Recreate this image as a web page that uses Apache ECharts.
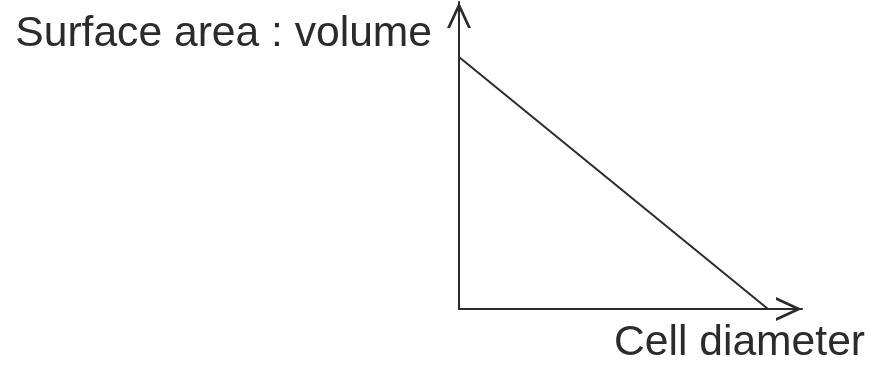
<!DOCTYPE html>
<html>
<head>
<meta charset="utf-8">
<script src="https://cdn.jsdelivr.net/npm/echarts@6/dist/echarts.min.js"></script>
<style>
  html, body { margin: 0; padding: 0; background: #fff; }
  #main { width: 872px; height: 368px; }
</style>
</head>
<body>
<div id="main"></div>
<script>
  // sketch: ratio falls as the cell gets bigger (arbitrary units)
  var diameter = [0, 10];
  var ratio = [10, 0];
  var xMax = 11.1;   // axis runs a bit past the end of the line
  var yMax = 12.18;

  var xName = 'Cell diameter';
  var yName = 'Surface area : volume';

  var ink = '#2b2b2b';
  // open chevron pointing up, like the built-in arrow
  var chevron = 'path://M12,0 L24,26 L21,26 L12,6.5 L3,26 L0,26 Z';

  var points = diameter.map(function (d, i) { return [d, ratio[i]]; });

  var chart = echarts.init(document.getElementById('main'));
  var option = {
    animation: false,
    grid: {
      left: 459, right: 70, top: 2, bottom: 59,
      containLabel: false,
      outerBoundsMode: 'none'
    },
    xAxis: {
      type: 'value',
      min: 0,
      max: xMax,
      name: xName,
      nameLocation: 'end',
      nameGap: 63,
      nameMoveOverlap: false,
      nameTextStyle: {
        fontFamily: 'Liberation Sans',
        fontSize: 42.6,
        color: ink,
        align: 'right',
        verticalAlign: 'top',
        lineHeight: 69
      },
      axisLine: {
        lineStyle: { color: ink, width: 2 },
        symbol: ['none', chevron],
        symbolSize: [24, 26],
        symbolOffset: [0, -13]
      },
      axisTick: { show: false },
      axisLabel: { show: false },
      splitLine: { show: false }
    },
    yAxis: {
      type: 'value',
      min: 0,
      max: yMax,
      name: yName,
      nameLocation: 'end',
      nameGap: -32,
      nameMoveOverlap: false,
      nameTextStyle: {
        fontFamily: 'Liberation Sans',
        fontSize: 42.6,
        color: ink,
        align: 'right',
        verticalAlign: 'middle',
        padding: [0, 27, 0, 0]
      },
      axisLine: {
        show: true,
        lineStyle: { color: ink, width: 2 },
        symbol: ['none', chevron],
        symbolSize: [24, 26],
        symbolOffset: [0, -13]
      },
      axisTick: { show: false },
      axisLabel: { show: false },
      splitLine: { show: false }
    },
    series: [{
      type: 'line',
      data: points,
      symbol: 'none',
      lineStyle: { color: ink, width: 2 }
    }]
  };
  chart.setOption(option);
</script>
</body>
</html>
